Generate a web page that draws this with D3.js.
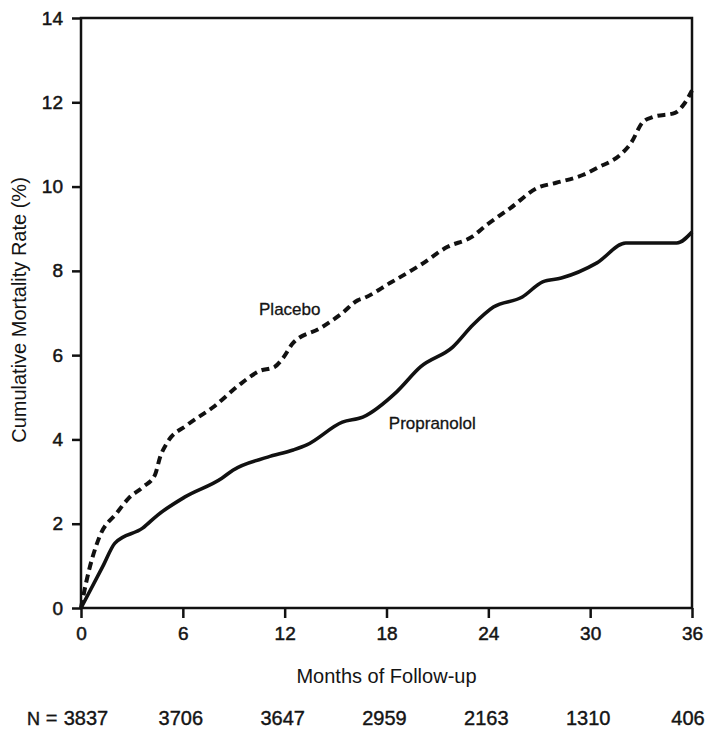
<!DOCTYPE html>
<html><head><meta charset="utf-8">
<script src="https://cdn.jsdelivr.net/npm/d3@7"></script>
<style>
body{margin:0;background:#fff;}
text{font-family:"Liberation Sans",Arial,Helvetica,sans-serif;fill:#141414;}
</style></head><body>
<svg id="chart" width="709" height="730"></svg>
<script>
const placeboMonths = [0,0.3,1.1,2.1,2.8,3.65,4.36,4.66,5.07,6.25,7.8,9.5,10.5,11.4,11.9,12.5,14.1,15.4,16.3,16.7,18.2,20.0,21.6,23.0,23.9,25.3,26.9,28.0,29.6,30.4,31.9,32.4,33.1,33.7,35.0,35.5,36];
const placeboRates  = [0,0.6,1.7,2.25,2.6,2.87,3.16,3.58,3.92,4.34,4.77,5.35,5.62,5.72,5.93,6.29,6.64,7.0,7.3,7.36,7.71,8.14,8.57,8.8,9.09,9.49,9.97,10.09,10.28,10.44,10.8,11.03,11.53,11.65,11.75,11.94,12.28];
const propMonths = [0,1.3,2.0,3.65,4.5,6.1,8.3,8.95,11.0,12.5,13.3,15.4,16.6,18.6,20.0,21.9,23.1,24.3,26.0,27.2,28.3,30.4,32.1,35.1,36];
const propRates  = [0,1.0,1.54,1.9,2.2,2.63,3.08,3.27,3.58,3.75,3.87,4.41,4.53,5.13,5.72,6.19,6.72,7.14,7.38,7.74,7.83,8.19,8.66,8.66,8.92];
const xTicks = [0,6,12,18,24,30,36];
const yTicks = [0,2,4,6,8,10,12,14];
const atRisk = [3837,3706,3647,2959,2163,1310,406];
const seriesLabels = ["Placebo","Propranolol"];

const svg = d3.select("#chart");
const L=81, R=692, T=18, B=608;
const x = d3.scaleLinear().domain([0,36]).range([L,R]);
const y = d3.scaleLinear().domain([0,14]).range([B,T]);

// frame
svg.append("rect").attr("x",L).attr("y",T).attr("width",R-L).attr("height",B-T)
  .attr("fill","none").attr("stroke","#111").attr("stroke-width",2.5);

const xAxis = svg.append("g").attr("transform",`translate(0,${B})`)
  .call(d3.axisBottom(x).tickValues(xTicks).tickSize(10).tickPadding(9).tickFormat(d3.format("d")));
const yAxis = svg.append("g").attr("transform",`translate(${L},0)`)
  .call(d3.axisLeft(y).tickValues(yTicks).tickSize(9).tickPadding(9).tickFormat(d3.format("d")));
[xAxis,yAxis].forEach(g=>{
  g.select(".domain").remove();
  g.selectAll(".tick line").attr("stroke","#111").attr("stroke-width",2.5);
  g.selectAll(".tick text").attr("font-size",19).attr("fill","#141414")
    .attr("font-family","Liberation Sans, Arial, sans-serif")
    .attr("stroke","#141414").attr("stroke-width",0.5);
});

const line = d3.line().x(d=>x(d[0])).y(d=>y(d[1])).curve(d3.curveMonotoneX);
const placebo = placeboMonths.map((m,i)=>[m,placeboRates[i]]);
const prop = propMonths.map((m,i)=>[m,propRates[i]]);

svg.append("path").datum(prop).attr("d",line).attr("fill","none")
  .attr("stroke","#111").attr("stroke-width",3.6).attr("stroke-linejoin","round");
svg.append("path").datum(placebo).attr("d",line).attr("fill","none")
  .attr("stroke","#111").attr("stroke-width",4).attr("stroke-dasharray","8,5");

svg.append("text").attr("x",x(12.3)).attr("y",y(7.1)+6).attr("text-anchor","middle")
  .attr("font-size",17).attr("stroke","#141414").attr("stroke-width",0.3).text(seriesLabels[0]);
svg.append("text").attr("x",x(20.7)).attr("y",y(4.4)+6).attr("text-anchor","middle")
  .attr("font-size",17).attr("stroke","#141414").attr("stroke-width",0.3).text(seriesLabels[1]);

svg.append("text").attr("x",(L+R)/2).attr("y",683).attr("text-anchor","middle")
  .attr("font-size",20).text("Months of Follow-up");

svg.append("text").attr("transform",`translate(26,310) rotate(-90)`)
  .attr("text-anchor","middle").attr("font-size",20).text("Cumulative Mortality Rate (%)");

svg.selectAll(".nrisk").data(atRisk).enter().append("text")
  .attr("class","nrisk").attr("x",(d,i)=>x(xTicks[i]) + (i===0?5:(i===6?-4:-2)))
  .attr("y",725).attr("text-anchor","middle").attr("font-size",20)
  .attr("stroke","#141414").attr("stroke-width",0.4).text(d=>d);
svg.append("text").attr("x",27).attr("y",725).attr("text-anchor","start").attr("font-size",18)
  .attr("stroke","#141414").attr("stroke-width",0.4).text("N");
svg.append("text").attr("x",51.5).attr("y",725).attr("text-anchor","middle").attr("font-size",20)
  .attr("stroke","#141414").attr("stroke-width",0.4).text("=");
</script></body></html>
